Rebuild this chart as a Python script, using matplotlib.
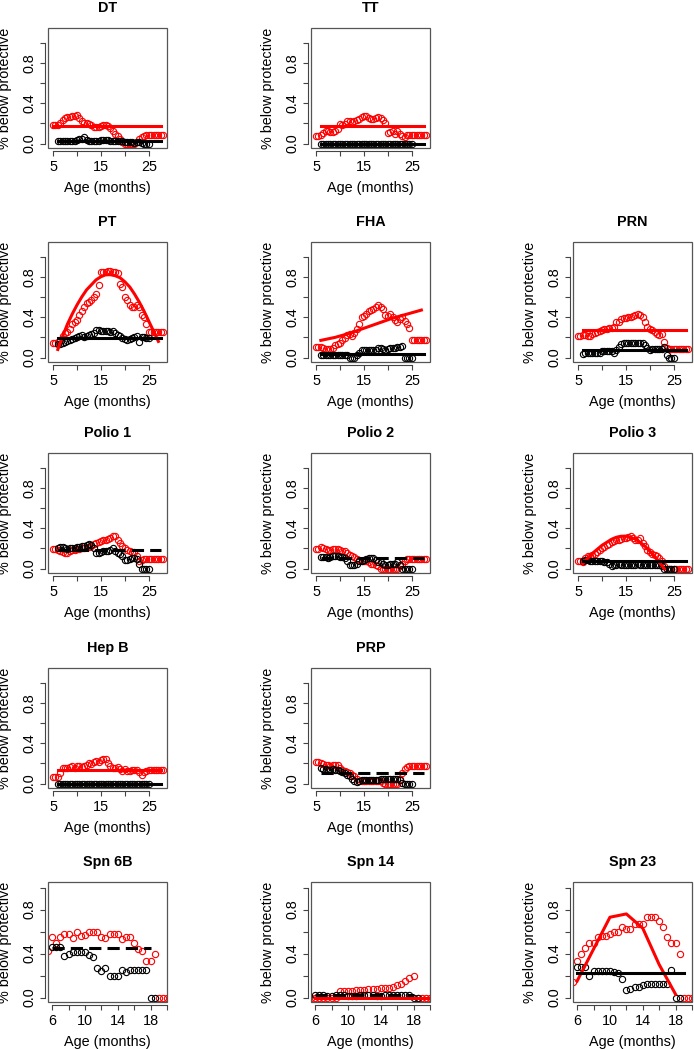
import numpy as np
import matplotlib
matplotlib.use('Agg')
import matplotlib.pyplot as plt
from matplotlib.patches import Rectangle

plt.rcParams['font.family'] = ['Liberation Sans', 'DejaVu Sans']

# age grids (months), one point every half month
age_red = np.arange(5.0, 28.01, 0.5)
age_black = np.arange(6.0, 25.01, 0.5)
age_red_spn = np.arange(5.5, 20.01, 0.5)
age_black_spn = np.arange(6.0, 18.51, 0.5)

# ---- DT
dt_red = [.18, .18, .18, .20, .23, .25, .26, .26, .27, .27,
          .28, .25, .22, .20, .20, .19, .18, .16, .16, .16,
          .17, .18, .18, .17, .15, .12, .09, .07, .05, .02,
          0, 0, 0, 0, 0, .02, .05, .06, .07, .08,
          .08, .08, .08, .08, .08, .08, .08]
dt_black = [.03, .03, .03, .03, .03, .03, .03, .03, .04, .05,
            .05, .06, .04, .03, .03, .03, .03, .03, .04, .04,
            .04, .04, .03, .03, .03, .03, .03, .03, .02, .02,
            .02, .02, .01, .02, .02, .01, 0, 0, 0]
# ---- TT
tt_red = [.07, .07, .08, .10, .12, .12, .11, .11, .12, .14,
          .19, .18, .19, .22, .22, .21, .22, .23, .24, .26,
          .27, .27, .25, .24, .24, .25, .26, .25, .23, .20,
          .10, .11, .12, .09, .12, .09, .07, .06, .08, .08,
          .08, .08, .08, .08, .08, .08, .08]
tt_black = [0] * 39
# ---- PT
pt_red = [.14, .14, .15, .17, .21, .24, .25, .28, .33, .35,
          .37, .42, .46, .50, .54, .55, .57, .60, .63, .72,
          .85, .85, .85, .86, .86, .85, .85, .84, .73, .70,
          .60, .57, .52, .50, .50, .52, .50, .42, .40, .33,
          .25, .25, .25, .25, .25, .25, .25]
pt_black = [.13, .13, .14, .15, .16, .17, .18, .19, .20, .21,
            .22, .20, .21, .22, .23, .24, .27, .27, .26, .26,
            .26, .26, .25, .26, .24, .22, .21, .19, .18, .17,
            .18, .19, .20, .21, .15, .20, .20, .19, .19]
pt_fit_x = [6, 7, 8, 9, 10, 11, 12, 13, 14, 15, 16, 17, 18, 19, 20, 21, 22, 23, 24, 25, 26, 27]
pt_fit = [.08, .21, .33, .43, .52, .60, .67, .72, .77, .80, .82,
          .82, .81, .79, .75, .70, .63, .55, .46, .36, .26, .16]
# ---- FHA
fha_red = [.10, .10, .10, .09, .08, .08, .08, .09, .12, .13,
           .14, .17, .19, .22, .23, .21, .24, .28, .33, .40,
           .41, .43, .46, .47, .48, .50, .52, .50, .48, .42,
           .41, .43, .40, .37, .35, .38, .40, .36, .33, .29,
           .17, .17, .17, .17, .17, .17, .17]
fha_black = [.03, .03, .03, .03, .03, .03, .03, .03, .03, .03,
             .03, .03, 0, 0, 0, .03, .05, .07, .07, .07,
             .07, .07, .07, .07, .09, .09, .08, .07, .08, .09,
             .09, .09, .10, .10, .11, 0, 0, 0, 0]
fha_fit_x = [6, 9, 12, 15, 18, 21, 24, 27]
fha_fit = [.17, .20, .24, .29, .34, .39, .43, .47]
# ---- PRN
prn_red = [.21, .21, .22, .22, .21, .21, .23, .24, .25, .26,
           .27, .28, .28, .29, .29, .30, .35, .35, .38, .39,
           .39, .40, .40, .41, .42, .43, .42, .40, .35, .30,
           .28, .27, .25, .23, .22, .23, .15, .09, .08, .08,
           .08, .08, .08, .08, .08, .08, .08]
prn_black = [.04, .05, .05, .05, .05, .05, .05, .05, .06, .06,
             .06, .06, .06, .05, .07, .10, .13, .14, .14, .14,
             .14, .14, .14, .14, .14, .14, .12, .09, .07, .08,
             .08, .08, .08, .08, .10, .03, 0, 0, 0]
# ---- Polio 1
p1_red = [.19, .19, .18, .17, .16, .15, .15, .17, .18, .18,
          .19, .19, .20, .20, .21, .21, .22, .24, .25, .26,
          .27, .28, .28, .29, .30, .32, .32, .28, .25, .22,
          .20, .18, .17, .16, .16, .12, .07, .08, .09, .09,
          .09, .09, .09, .09, .09, .09, .09]
p1_black = [.20, .21, .21, .20, .19, .20, .20, .20, .21, .21,
            .22, .22, .23, .24, .23, .20, .15, .15, .16, .17,
            .17, .17, .18, .20, .17, .15, .14, .12, .08, .08,
            .09, .10, .10, .09, .05, 0, 0, 0, 0]
# ---- Polio 2
p2_red = [.19, .19, .21, .20, .19, .18, .18, .19, .19, .19,
          .18, .17, .17, .15, .13, .12, .11, .09, .08, .07,
          .07, .07, .06, .05, .05, .04, .03, 0, 0, 0,
          0, 0, 0, 0, 0, .03, .05, .07, .09, .09,
          .09, .09, .09, .09, .09, .09, .09]
p2_black = [.11, .11, .11, .10, .11, .12, .12, .12, .11, .11,
            .10, .07, .04, .04, .04, .05, .07, .07, .08, .09,
            .10, .10, .10, .08, .06, .06, .05, .04, .04, .05,
            .05, .05, .06, .04, 0, 0, 0, 0, 0]
# ---- Polio 3
p3_red = [.07, .07, .06, .10, .12, .12, .13, .14, .16, .18,
          .20, .21, .23, .24, .26, .27, .28, .28, .29, .30,
          .30, .31, .32, .30, .28, .28, .30, .25, .22, .18,
          .16, .14, .13, .12, .10, .07, .03, 0, 0, 0,
          0, 0, 0, 0, 0, 0, 0]
p3_black = [.07, .08, .08, .07, .07, .07, .07, .07, .07, .06,
            .06, .05, .03, .04, .04, .05, .04, .04, .04, .04,
            .04, .04, .04, .05, .04, .04, .04, .04, .04, .04,
            .04, .04, .04, .03, 0, 0, 0, 0, 0]
p3_fit_x = [6, 7, 8, 9, 10, 11, 12, 13, 14, 15, 16, 17, 18, 19, 20, 21, 22, 23]
p3_fit = [.05, .10, .15, .19, .23, .26, .29, .31, .32, .32, .31, .29, .26, .22, .17, .12, .06, 0]
# ---- Hep B
hepb_red = [.06, .06, .06, .10, .15, .15, .15, .16, .17, .15,
            .17, .17, .16, .17, .18, .20, .19, .21, .22, .21,
            .23, .24, .24, .20, .17, .15, .15, .16, .14, .12,
            .14, .12, .12, .13, .13, .13, .11, .08, .11, .12,
            .13, .13, .13, .13, .13, .13, .13]
hepb_black = [0] * 39
# ---- PRP
prp_red = [.21, .21, .20, .19, .18, .18, .17, .18, .18, .18,
           .15, .13, .12, .11, .10, .08, .07, .05, .03, .03,
           .03, .03, .03, .03, .03, .03, .03, .03, .01, 0,
           0, 0, 0, 0, 0, .05, .10, .14, .16, .17,
           .17, .17, .17, .17, .17, .17, .17]
prp_black = [.15, .14, .14, .13, .13, .14, .13, .13, .12, .11,
             .10, .08, .07, .05, .03, .02, .03, .04, .04, .04,
             .04, .04, .04, .04, .04, .05, .05, .05, .05, .05,
             .05, .05, .05, .04, .01, 0, 0, 0, 0]
# ---- Spn 6B
s6_red = [.42, .55, .50, .55, .58, .58, .54, .60, .56, .57,
          .60, .60, .60, .55, .54, .58, .58, .58, .53, .55,
          .55, .50, .44, .42, .33, .33, .40, 0, 0, 0]
s6_black = [.46, .46, .46, .38, .40, .41, .41, .41, .41, .39,
            .37, .27, .24, .27, .20, .20, .20, .25, .23, .25,
            .25, .25, .25, .25, 0, 0]
# ---- Spn 14
s14_red = [0, 0, 0, 0, 0, 0, 0, .06, .06, .06,
           .06, .07, .07, .07, .08, .08, .08, .09, .09, .09,
           .10, .11, .12, .15, .18, .20, 0, 0, 0, 0]
s14_black = [.02, .02, .02, .01, .01, .02, .02, .02, .01, .01,
             .01, .02, .02, .02, .02, .01, .01, .02, .02, .02,
             .02, .02, .02, .02, 0, 0]
# ---- Spn 23
s23_red = [.14, .33, .40, .45, .50, .50, .55, .56, .56, .58,
           .60, .60, .64, .62, .62, .67, .67, .67, .73, .73,
           .73, .70, .64, .55, .50, .50, .40, 0, 0, 0]
s23_black = [.28, .28, .28, .20, .24, .24, .24, .24, .24, .23,
             .22, .17, .07, .08, .10, .10, .11, .12, .12, .12,
             .12, .12, .12, .25, 0, 0]
s23_fit_x = [6, 8, 10, 12, 14, 16, 18]
s23_fit = [.15, .44, .73, .76, .63, .30, .03]

# (title, row, col, red pts, black pts, fits[(x, y, colour, style)], spn)
panels = [
    ("DT", 0, 0, dt_red, dt_black,
     [([5, 27.5], [.17, .17], 'red', '-'), ([6, 27.5], [.025, .025], 'black', '-')], False),
    ("TT", 0, 1, tt_red, tt_black,
     [([6, 27.5], [.17, .17], 'red', '-'), ([6, 27.5], [0, 0], 'black', '-')], False),
    ("PT", 1, 0, pt_red, pt_black,
     [(pt_fit_x, pt_fit, 'red', '-'), ([6, 27.5], [.19, .19], 'black', '-')], False),
    ("FHA", 1, 1, fha_red, fha_black,
     [(fha_fit_x, fha_fit, 'red', '-'), ([6, 27.5], [.04, .04], 'black', '-')], False),
    ("PRN", 1, 2, prn_red, prn_black,
     [([6, 27.5], [.27, .27], 'red', '-'), ([6, 27.5], [.07, .07], 'black', '-')], False),
    ("Polio 1", 2, 0, p1_red, p1_black,
     [([6, 27.5], [.18, .18], 'black', '--')], False),
    ("Polio 2", 2, 1, p2_red, p2_black,
     [([6, 27.5], [.10, .10], 'black', '--')], False),
    ("Polio 3", 2, 2, p3_red, p3_black,
     [(p3_fit_x, p3_fit, 'red', '-'), ([6, 27.5], [.07, .07], 'black', '-')], False),
    ("Hep B", 3, 0, hepb_red, hepb_black,
     [([6, 27.5], [.13, .13], 'red', '-'), ([6, 27.5], [0, 0], 'black', '-')], False),
    ("PRP", 3, 1, prp_red, prp_black,
     [([6, 27.5], [.10, .10], 'black', '--')], False),
    ("Spn 6B", 4, 0, s6_red, s6_black,
     [([6, 18], [.45, .45], 'black', '--')], True),
    ("Spn 14", 4, 1, s14_red, s14_black,
     [([6, 20], [0, 0], 'red', '-'), ([6, 18], [.02, .02], 'black', '--')], True),
    ("Spn 23", 4, 2, s23_red, s23_black,
     [(s23_fit_x, s23_fit, 'red', '-'), ([6, 19], [.22, .22], 'black', '-')], True),
]

W, H = 694, 1050
col_left = [48, 311, 573]
row_top = [28, 242, 453, 668, 882]
aw, ah = 119, 120

fig = plt.figure(figsize=(W / 100, H / 100), dpi=100)

for title, r, c, red, black, fits, spn in panels:
    ax = fig.add_axes([col_left[c] / W, 1 - (row_top[r] + ah) / H, aw / W, ah / H])
    if spn:
        xr, xb = age_red_spn, age_black_spn
    else:
        xr, xb = age_red, age_black
    ax.plot(xr, red, 'o', mfc='none', mec='red', ms=4.5, mew=0.8, zorder=2)
    ax.plot(xb, black, 'o', mfc='none', mec='black', ms=4.5, mew=0.8, zorder=2)
    for fx, fy, col, ls in fits:
        if ls == '--':
            ax.plot(fx, fy, color=col, lw=2.2, dashes=(4, 2), zorder=3)
        else:
            ax.plot(fx, fy, color=col, lw=2.2, zorder=3)

    if spn:
        ax.set_xlim(5.5, 20.0)
        ax.set_ylim(-0.04, 1.05)
        ax.set_xticks([6, 8, 10, 12, 14, 16, 18, 20])
        ax.set_xticklabels(['6', '', '10', '', '14', '', '18', ''])
        ax.spines['bottom'].set_bounds(6, 20)
    else:
        ax.set_xlim(3.95, 28.8)
        ax.set_ylim(-0.044, 1.144)
        ax.set_xticks([5, 10, 15, 20, 25])
        ax.set_xticklabels(['5', '', '15', '', '25'])
        ax.spines['bottom'].set_bounds(5, 25)
    ax.set_yticks([0, 0.2, 0.4, 0.6, 0.8, 1.0])
    ax.set_yticklabels(['0.0', '', '0.4', '', '0.8', ''])
    ax.spines['left'].set_bounds(0, 1)
    for s in ['left', 'bottom']:
        ax.spines[s].set_position(('outward', 2))
        ax.spines[s].set_color('#444444')
        ax.spines[s].set_linewidth(0.8)
    ax.spines['top'].set_visible(False)
    ax.spines['right'].set_visible(False)
    ax.add_patch(Rectangle((0, 0), 1, 1, transform=ax.transAxes, fill=False,
                           ec='#555555', lw=0.9, clip_on=False, zorder=5))
    ax.tick_params(direction='out', length=3.5, width=0.8, color='#444444',
                   labelsize=10.4, pad=3)
    ax.tick_params(axis='y', labelrotation=90)
    for lab in ax.get_yticklabels():
        lab.set_va('center')

    ax.set_title(title, fontweight='bold', fontsize=10.4, pad=11.5)
    ax.set_xlabel('Age (months)', fontsize=10.4, va='center')
    ax.xaxis.set_label_coords(0.5, -0.333)
    ax.set_ylabel('% below protective', fontsize=10.4, va='center')
    ax.yaxis.set_label_coords(-0.36, 0.5)

fig.savefig('out.png', dpi=100)
